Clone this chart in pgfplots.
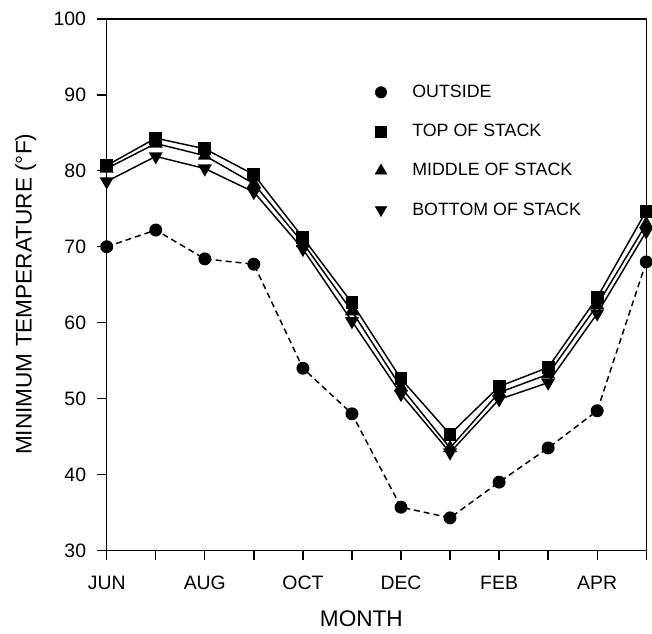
\documentclass[border=0pt]{standalone}
\usepackage{fontspec}
\setmainfont{Liberation Sans}
\usepackage{pgfplots}
\pgfplotsset{compat=1.18}
\pgfplotsset{myleg/.style={legend image code/.code={\path (0cm,0cm) (1.05cm,0cm); \draw[mark repeat=2,mark phase=2,##1] plot coordinates {(0cm,0cm)(0.3cm,0cm)(0.6cm,0cm)};}}}
\begin{document}
\begin{tikzpicture}
\begin{axis}[
  scale only axis, width=405.75pt, height=399.75pt,
  xmin=0, xmax=11, ymin=30, ymax=100,
  xtick={0,...,11}, xticklabels={JUN,,AUG,,OCT,,DEC,,FEB,,APR,},
  ytick={30,40,...,100},
  tick align=outside, xtick pos=bottom, ytick pos=left,
  major tick length=7.5pt,
  axis line style={line width=1pt},
  every tick/.style={black, line width=1pt},
  /pgf/number format/assume math mode=true,
  tick label style={font=\fontsize{14.6}{16}\selectfont},
  xticklabel shift=8pt, yticklabel shift=4.5pt,
  xlabel={MONTH}, ylabel={MINIMUM TEMPERATURE (°F)},
  every axis x label/.style={at={(axis description cs:0.472,-0.1276)},anchor=center,font=\fontsize{17}{20}\selectfont},
  every axis y label/.style={at={(axis description cs:-0.15,0.482)},rotate=90,anchor=center,font=\fontsize{17}{20}\selectfont},
  clip=false,
  legend style={draw=none, fill=none, at={(axis description cs:0.479,0.886)}, anchor=north west,
    font=\fontsize{13.4}{15}\selectfont, row sep=14.6pt},
  legend cell align=left,
]
\addplot[black, line width=1.1pt, dash pattern=on 4.5pt off 3pt, mark=*, mark size=4.3pt, mark options={solid}, forget plot]
  coordinates {(0,70.0)(1,72.2)(2,68.4)(3,67.7)(4,54.0)(5,48.0)(6,35.7)(7,34.3)(8,39.0)(9,43.5)(10,48.4)(11,68.0)};
\addplot[black, line width=1.1pt, mark=square*, mark size=4.3pt, forget plot]
  coordinates {(0,80.7)(1,84.3)(2,82.9)(3,79.5)(4,71.2)(5,62.6)(6,52.6)(7,45.3)(8,51.6)(9,54.1)(10,63.3)(11,74.7)};
\addplot[black, line width=1.1pt, mark=triangle*, mark size=5pt, forget plot]
  coordinates {(0,80.3)(1,83.6)(2,82.0)(3,78.3)(4,70.5)(5,61.5)(6,51.5)(7,43.5)(8,50.8)(9,53.2)(10,62.3)(11,73.0)};
\addplot[black, line width=1.1pt, mark=triangle*, mark size=5pt, mark options={rotate=180}, forget plot]
  coordinates {(0,78.6)(1,81.9)(2,80.3)(3,77.2)(4,69.7)(5,60.2)(6,50.6)(7,42.9)(8,49.9)(9,52.1)(10,61.2)(11,72.0)};
\addlegendimage{only marks, myleg, black, mark=*, mark size=4.3pt}
\addlegendentry{OUTSIDE}
\addlegendimage{only marks, myleg, black, mark=square*, mark size=4.3pt}
\addlegendentry{TOP OF STACK}
\addlegendimage{only marks, myleg, black, mark=triangle*, mark size=5pt}
\addlegendentry{MIDDLE OF STACK}
\addlegendimage{only marks, myleg, black, mark=triangle*, mark size=5pt, mark options={rotate=180}}
\addlegendentry{BOTTOM OF STACK}
\path (rel axis cs:0,0) ++(-80.25pt,-62.25pt) (rel axis cs:1,1) ++(3pt,14.25pt);
\end{axis}
\end{tikzpicture}
\end{document}
